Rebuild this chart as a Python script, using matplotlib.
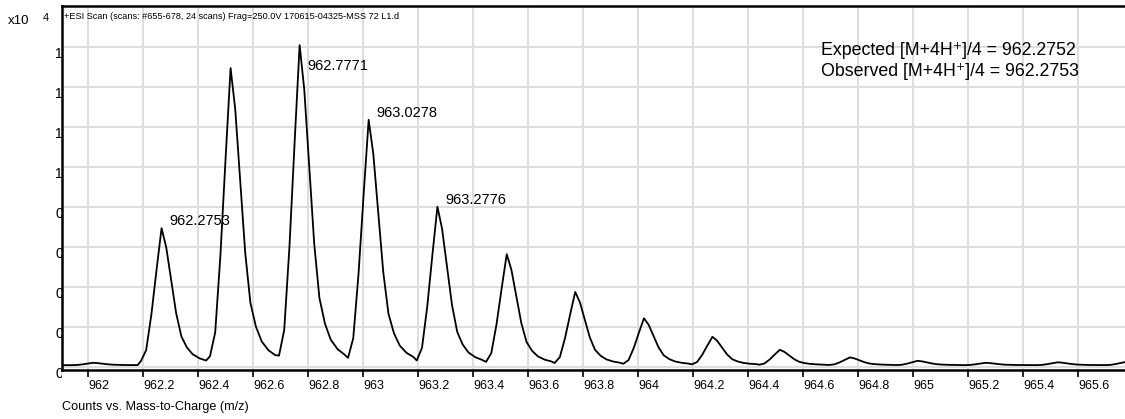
import numpy as np
import matplotlib.pyplot as plt
from matplotlib import font_manager
from matplotlib.transforms import Bbox, TransformedBbox

# apex m/z and apex height (x10^4 counts) of the isotope envelope
peak_mz = [962.018, 962.267, 962.518, 962.769, 963.020, 963.270, 963.522, 963.771,
           964.021, 964.270, 964.515, 964.770, 965.016, 965.263, 965.525, 965.775]
peak_height = [0.020, 0.6925, 1.4925, 1.607, 1.234, 0.80, 0.5625, 0.374,
               0.2425, 0.15, 0.085, 0.047, 0.030, 0.020, 0.0225, 0.025]
# shape of a single profile peak, read off the tall ones
# (m/z offset from apex, fraction of apex height)
shape_dx = [-0.075, -0.056, -0.037, -0.018, 0.0, 0.017, 0.035, 0.053, 0.072,
            0.092, 0.113, 0.138, 0.162]
shape_frac = [0.03, 0.11, 0.37, 0.70, 1.0, 0.86, 0.62, 0.38, 0.21,
              0.13, 0.08, 0.05, 0.034]
baseline = 0.008
x_start = 961.905
x_end = 965.77

# labelled peaks (index into peak_mz) and the centroid text
label_idx = [1, 3, 4, 5]
label_txt = ['962.2753', '962.7771', '963.0278', '963.2776']

x_ticks = [962, 962.2, 962.4, 962.6, 962.8, 963, 963.2, 963.4, 963.6, 963.8,
           964, 964.2, 964.4, 964.6, 964.8, 965, 965.2, 965.4, 965.6]
x_tick_labels = ['962', '962.2', '962.4', '962.6', '962.8', '963', '963.2', '963.4',
                 '963.6', '963.8', '964', '964.2', '964.4', '964.6', '964.8', '965',
                 '965.2', '965.4', '965.6']
y_ticks = [0, 0.2, 0.4, 0.6, 0.8, 1.0, 1.2, 1.4, 1.6]
y_tick_labels = ['0', '0.2', '0.4', '0.6', '0.8', '1', '1.2', '1.4', '1.6']

title = '+ESI Scan (scans: #655-678, 24 scans) Frag=250.0V 170615-04325-MSS 72 L1.d'
expected = 'Expected [M+4H\u207a]/4 = 962.2752'
observed = 'Observed [M+4H\u207a]/4 = 962.2753'

plt.rcParams['font.family'] = ['Liberation Sans', 'DejaVu Sans']

# narrow face for the scan header if it is there
try:
    font_manager.findfont('Liberation Sans Narrow', fallback_to_default=False)
    title_font, title_size = 'Liberation Sans Narrow', 8.0
except ValueError:
    title_font, title_size = 'Liberation Sans', 6.6

# build the profile trace peak by peak
xs = [x_start]
ys = [baseline]
for mz, h in zip(peak_mz, peak_height):
    for dx, fr in zip(shape_dx, shape_frac):
        xs.append(mz + dx)
        ys.append(baseline + (h - baseline) * fr)

W, H = 1125, 419
fig = plt.figure(figsize=(W / 100, H / 100), dpi=100)
ax = fig.add_axes([62 / W, 1 - 370 / H, 1 - 62 / W, (370 - 6.5) / H])

ax.plot(xs, ys, color='black', lw=1.3, zorder=3)
ax.set_xlim(x_start, x_end)
ax.set_ylim(-0.016, 1.8)

ax.set_xticks(x_ticks)
ax.set_xticklabels(x_tick_labels, fontsize=9, ha='left')
ax.set_yticks(y_ticks)
ax.set_yticklabels(y_tick_labels, fontsize=10, ha='left', va='top')
ax.tick_params(axis='x', direction='out', length=5, width=1.2, pad=2, color='black')
ax.tick_params(axis='y', length=0, pad=5)
ax.grid(True, color='#dedede', lw=1.4, zorder=0)
for s in ['left', 'top', 'bottom']:
    ax.spines[s].set_linewidth(1.8)
ax.spines['right'].set_visible(False)

# y tick labels are cut off by the plot area in the original
clip = TransformedBbox(Bbox([[0, 0], [62 / W, 1]]), fig.transFigure)
for lbl in ax.get_yticklabels():
    lbl.set_clip_box(clip)
    lbl.set_clip_on(True)

for i, t in zip(label_idx, label_txt):
    dy = -15 if i == 3 else 5
    ax.annotate(t, xy=(peak_mz[i], peak_height[i]), xytext=(5.5, dy),
                textcoords='offset points', fontsize=10.5, ha='left', va='center')

ax.text(0.7137, 0.879, expected, transform=ax.transAxes, fontsize=12.8, va='center')
ax.text(0.7137, 0.821, observed, transform=ax.transAxes, fontsize=12.8, va='center')
ax.text(2 / (W - 62), 1 - 10 / 363.5, title, transform=ax.transAxes,
        fontsize=title_size, family=[title_font, 'DejaVu Sans'], va='center')

fig.text(8 / W, 1 - 21 / H, 'x10', fontsize=9.5, va='center')
fig.text(43 / W, 1 - 18 / H, '4', fontsize=8, va='center')
fig.text(62 / W, 1 - 407 / H, 'Counts vs. Mass-to-Charge (m/z)', fontsize=9.1, va='center')

fig.savefig('out.png', dpi=100)
